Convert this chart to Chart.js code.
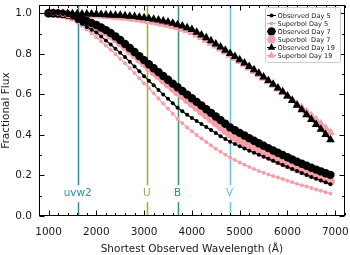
<!DOCTYPE html>
<html><head><meta charset="utf-8">
<script src="https://cdn.jsdelivr.net/npm/chart.js@4"></script>
<style>html,body{margin:0;padding:0;background:#fff;overflow:hidden}</style>
</head><body>
<canvas id="c" width="350" height="255" style="width:350px;height:255px;display:block"></canvas>
<script>
const wavelengths = [1000,1100,1200,1300,1400,1500,1600,1700,1800,1900,2000,2100,2200,2300,2400,2500,2600,2700,2800,2900,3000,3100,3200,3300,3400,3500,3600,3700,3800,3900,4000,4100,4200,4300,4400,4500,4600,4700,4800,4900,5000,5100,5200,5300,5400,5500,5600,5700,5800,5900,6000,6100,6200,6300,6400,6500,6600,6700,6800,6900];
const observedDay5 = [1.000,1.000,0.999,0.996,0.990,0.978,0.962,0.948,0.933,0.919,0.905,0.886,0.866,0.846,0.825,0.805,0.784,0.761,0.738,0.714,0.690,0.667,0.645,0.622,0.600,0.578,0.556,0.534,0.517,0.500,0.484,0.469,0.454,0.439,0.424,0.409,0.394,0.380,0.366,0.355,0.344,0.333,0.322,0.312,0.302,0.292,0.282,0.272,0.262,0.252,0.242,0.232,0.222,0.212,0.202,0.193,0.184,0.175,0.166,0.157];
const superbolDay5 = [1.000,0.999,0.997,0.992,0.984,0.971,0.955,0.938,0.920,0.901,0.882,0.862,0.841,0.820,0.798,0.776,0.753,0.729,0.705,0.680,0.655,0.630,0.605,0.580,0.555,0.530,0.505,0.478,0.457,0.437,0.418,0.400,0.382,0.365,0.348,0.332,0.317,0.302,0.288,0.276,0.264,0.253,0.242,0.232,0.222,0.213,0.205,0.197,0.190,0.182,0.174,0.166,0.159,0.152,0.145,0.138,0.131,0.124,0.117,0.111];
const observedDay7 = [1.000,1.000,0.999,0.997,0.993,0.987,0.979,0.971,0.962,0.952,0.942,0.930,0.917,0.903,0.886,0.868,0.849,0.829,0.809,0.789,0.769,0.749,0.729,0.710,0.691,0.672,0.653,0.635,0.617,0.599,0.581,0.563,0.545,0.527,0.509,0.491,0.473,0.455,0.437,0.423,0.410,0.397,0.384,0.371,0.359,0.347,0.335,0.323,0.312,0.301,0.290,0.279,0.268,0.258,0.248,0.238,0.229,0.220,0.211,0.203];
const superbolDay7 = [1.000,0.999,0.997,0.994,0.989,0.982,0.974,0.965,0.955,0.944,0.933,0.920,0.906,0.891,0.874,0.855,0.836,0.815,0.795,0.774,0.753,0.732,0.711,0.691,0.671,0.651,0.631,0.612,0.593,0.574,0.555,0.536,0.517,0.498,0.479,0.460,0.441,0.422,0.403,0.388,0.374,0.360,0.347,0.334,0.321,0.309,0.297,0.285,0.274,0.263,0.253,0.243,0.233,0.223,0.214,0.205,0.196,0.188,0.179,0.171];
const observedDay19 = [1.000,1.000,1.000,0.999,0.999,0.998,0.998,0.997,0.997,0.996,0.995,0.994,0.993,0.992,0.991,0.990,0.988,0.986,0.984,0.981,0.978,0.975,0.971,0.967,0.962,0.957,0.951,0.944,0.937,0.929,0.920,0.907,0.893,0.879,0.864,0.849,0.834,0.818,0.802,0.787,0.771,0.755,0.738,0.721,0.704,0.686,0.668,0.650,0.631,0.613,0.592,0.570,0.547,0.524,0.500,0.476,0.452,0.428,0.402,0.376];
const superbolDay19 = [0.999,0.999,0.998,0.997,0.996,0.995,0.994,0.993,0.992,0.990,0.989,0.987,0.985,0.983,0.981,0.979,0.977,0.974,0.971,0.968,0.964,0.960,0.956,0.951,0.946,0.941,0.935,0.929,0.922,0.914,0.906,0.894,0.881,0.867,0.853,0.839,0.824,0.809,0.794,0.779,0.763,0.747,0.731,0.714,0.697,0.680,0.663,0.645,0.627,0.609,0.590,0.571,0.552,0.533,0.513,0.494,0.474,0.454,0.433,0.412];
const xTicks = [1000,2000,3000,4000,5000,6000,7000];
const yTicks = [0.0,0.2,0.4,0.6,0.8,1.0];
const filterNames = ['uvw2','U','B','V'];
const filterWaves = [1610,3055,3700,4790];
const filterColors = ['#1f8fc2','#aaa248','#1ea163','#4fc9e6'];
const legendLabels = ['Observed Day 5','Superbol Day 5','Observed Day 7','Superbol  Day 7','Observed Day 19','Superbol Day 19'];

const PINK = '#f5a0a9', BLACK = '#000000';
Chart.defaults.font.family = 'DejaVu Sans';
Chart.defaults.color = '#1a1a1a';

function pts(arr){ return wavelengths.map((w,i)=>({x:w,y:arr[i]})); }
function ds(label, arr, color, style, r, order){
  return {label, data: pts(arr), borderColor: color, backgroundColor: color,
    pointBackgroundColor: color, pointBorderColor: color, pointBorderWidth: 0,
    pointStyle: style, pointRadius: r, pointHoverRadius: r, borderWidth: 1.2,
    tension: 0, order};
}
const datasets = [
  ds(legendLabels[0], observedDay5, BLACK, 'circle', 2.0, 0),
  ds(legendLabels[1], superbolDay5, PINK, 'circle', 2.0, 1),
  ds(legendLabels[2], observedDay7, BLACK, 'circle', 4.2, 2),
  ds(legendLabels[3], superbolDay7, PINK, 'circle', 4.5, 3),
  ds(legendLabels[4], observedDay19, BLACK, 'triangle', 5.0, 4),
  ds(legendLabels[5], superbolDay19, PINK, 'triangle', 5.2, 5)
];

const filterPlugin = {
  id: 'filters',
  beforeDatasetsDraw(chart){
    const {ctx, chartArea:a, scales:{x,y}} = chart;
    ctx.save();
    filterWaves.forEach((w,i)=>{
      const px = Math.round(x.getPixelForValue(w)) + 0.5;
      ctx.strokeStyle = filterColors[i]; ctx.lineWidth = 1.5;
      ctx.beginPath(); ctx.moveTo(px, a.top); ctx.lineTo(px, a.bottom); ctx.stroke();
    });
    ctx.font = '10.5px "DejaVu Sans"'; ctx.textAlign='center'; ctx.textBaseline='middle';
    filterWaves.forEach((w,i)=>{
      const px = x.getPixelForValue(w), py = y.getPixelForValue(0.11);
      const tw = ctx.measureText(filterNames[i]).width;
      ctx.fillStyle = '#fff';
      ctx.fillRect(px - tw/2 - 2, py - 8.5, tw + 4, 17);
      ctx.fillStyle = filterColors[i];
      ctx.fillText(filterNames[i], px, py);
    });
    ctx.restore();
  }
};

const framePlugin = {
  id: 'frame',
  afterDraw(chart){
    const {ctx, chartArea:a, scales:{x,y}} = chart;
    ctx.save();
    ctx.strokeStyle = '#000'; ctx.lineWidth = 1;
    const L = Math.round(a.left)+0.5, R = Math.round(a.right)-0.5, T = Math.round(a.top)+0.5, B = Math.round(a.bottom)-0.5;
    ctx.strokeRect(L, T, R-L, B-T);
    ctx.beginPath();
    for (let v = 800; v <= 7200; v += 200) {
      const px = Math.round(x.getPixelForValue(v)) + 0.5;
      const len = (v % 1000 === 0) ? 5 : 2.5;
      ctx.moveTo(px, B); ctx.lineTo(px, B - len);
      ctx.moveTo(px, T); ctx.lineTo(px, T + len);
    }
    for (let k = 0; k <= 10; k++) {
      const v = k/10;
      const py = Math.round(y.getPixelForValue(v)) + 0.5;
      const len = (k % 2 === 0) ? 5 : 2.5;
      ctx.moveTo(L, py); ctx.lineTo(L + len, py);
      ctx.moveTo(R, py); ctx.lineTo(R - len, py);
    }
    ctx.stroke();

    // legend
    const bx = 265.5, by = 7.5, bw = 75, bh = 55;
    ctx.fillStyle = 'rgba(255,255,255,0.85)';
    ctx.strokeStyle = '#cccccc'; ctx.lineWidth = 1;
    ctx.beginPath();
    if (ctx.roundRect) ctx.roundRect(bx, by, bw, bh, 2); else ctx.rect(bx, by, bw, bh);
    ctx.fill(); ctx.stroke();
    ctx.font = '6.6px "DejaVu Sans"'; ctx.textAlign='left'; ctx.textBaseline='middle';
    chart.data.datasets.forEach((d,i)=>{
      const cy = 15.5 + i*8;
      ctx.strokeStyle = d.borderColor; ctx.lineWidth = 1;
      ctx.beginPath(); ctx.moveTo(267, cy); ctx.lineTo(276, cy); ctx.stroke();
      ctx.fillStyle = d.pointBackgroundColor;
      Chart.helpers.drawPoint(ctx, {pointStyle: d.pointStyle, radius: Math.min(d.pointRadius, 4.3), rotation: 0, borderWidth: 0}, 271.5, cy);
      ctx.fillStyle = '#1a1a1a';
      ctx.fillText(d.label, 277.5, cy + 0.5);
    });
    ctx.restore();
  }
};

new Chart(document.getElementById('c'), {
  type: 'line',
  data: { datasets },
  plugins: [filterPlugin, framePlugin],
  options: {
    responsive: false, animation: false, devicePixelRatio: 1,
    layout: { padding: { left: 0, right: 3, top: 2, bottom: 0 } },
    plugins: { legend: { display: false }, tooltip: { enabled: false } },
    scales: {
      x: {
        type: 'linear', min: 800, max: 7200,
        grid: { display: false, drawTicks: false },
        border: { display: false },
        afterBuildTicks: s => { s.ticks = xTicks.map(v => ({ value: v })); },
        afterFit: s => { s.height = 39; s.paddingLeft = 0; s.paddingRight = 0; },
        ticks: { padding: 10, maxRotation: 0, autoSkip: false, font: { size: 10.5 }, color: '#1a1a1a', callback: v => String(v) },
        title: { display: true, text: 'Shortest Observed Wavelength (Å)', font: { size: 10.5 }, color: '#1a1a1a', padding: { top: 0, bottom: -1 } }
      },
      y: {
        type: 'linear', min: 0, max: 1.04,
        grid: { display: false, drawTicks: false },
        border: { display: false },
        afterBuildTicks: s => { s.ticks = yTicks.map(v => ({ value: v })); },
        afterFit: s => { s.width = 39; s.paddingTop = 0; s.paddingBottom = 0; },
        ticks: { padding: 7, autoSkip: false, font: { size: 10.5 }, color: '#1a1a1a', callback: v => Number(v).toFixed(1) },
        title: { display: true, text: 'Fractional Flux', font: { size: 10.5 }, color: '#1a1a1a', padding: { top: 0, bottom: 0 } }
      }
    }
  }
});
</script>
</body></html>
